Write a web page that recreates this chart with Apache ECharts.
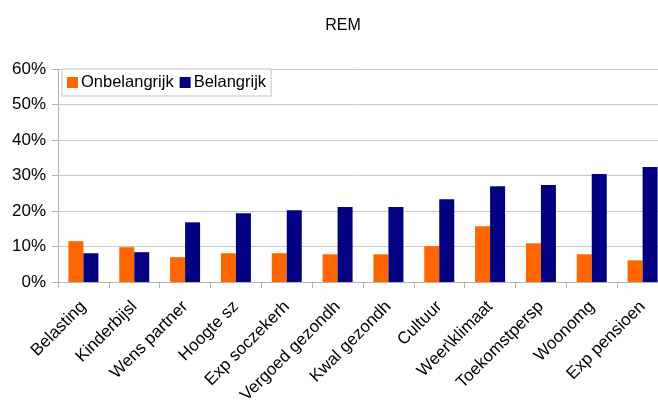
<!DOCTYPE html>
<html>
<head>
<meta charset="utf-8">
<script src="https://cdn.jsdelivr.net/npm/echarts@6/dist/echarts.min.js"></script>
<style>html,body{margin:0;padding:0;background:#fff}#c{width:658px;height:403px}</style>
</head>
<body>
<div id="c"></div>
<script>
const categories = ['Belasting','Kinderbijsl','Wens partner','Hoogte sz','Exp soczekerh','Vergoed gezondh','Kwal gezondh','Cultuur','Weer\\klimaat','Toekomstpersp','Woonomg','Exp pensioen'];
const onbelangrijk = [11.5, 9.8, 7.0, 8.1, 8.1, 7.8, 7.8, 10.1, 15.7, 10.9, 7.8, 6.1];
const belangrijk = [8.1, 8.4, 16.8, 19.4, 20.2, 21.1, 21.1, 23.3, 27.0, 27.3, 30.4, 32.4];
const yTicks = [0, 10, 20, 30, 40, 50, 60];

const font = 'Liberation Sans, Arial, Helvetica, sans-serif';
const chart = echarts.init(document.getElementById('c'), null, {renderer: 'canvas'});
chart.setOption({
  animation: false,
  textStyle: {fontFamily: font},
  title: {
    text: 'REM', left: 338, top: 13, textAlign: 'center',
    textStyle: {fontSize: 16, fontWeight: 'normal', color: '#000', fontFamily: font}
  },
  legend: {
    left: 62, top: 69,
    padding: [5, 5, 5, 5],
    itemWidth: 11, itemHeight: 11, itemGap: 6,
    icon: 'rect',
    backgroundColor: '#fff',
    borderColor: '#c0c0c0', borderWidth: 1,
    textStyle: {fontSize: 16.5, color: '#000', fontFamily: font, padding: [0, 0, 0, -2]},
    data: ['Onbelangrijk', 'Belangrijk']
  },
  grid: {left: 58, width: 610, top: 69, height: 213, containLabel: false, outerBoundsMode: 'none'},
  xAxis: {
    type: 'category', data: categories,
    axisLine: {lineStyle: {color: '#b3b3b3', width: 1}},
    axisTick: {show: true, length: 6, lineStyle: {color: '#b3b3b3'}},
    axisLabel: {rotate: 45, fontSize: 17, color: '#000', margin: 22, interval: 0, fontFamily: font, hideOverlap: false},
    splitLine: {show: false}
  },
  yAxis: {
    type: 'value', min: yTicks[0], max: yTicks[yTicks.length - 1], interval: 10,
    axisLine: {show: true, lineStyle: {color: '#b3b3b3'}},
    axisTick: {show: true, length: 6, lineStyle: {color: '#b3b3b3'}},
    axisLabel: {formatter: '{value}%', fontSize: 17, color: '#000', margin: 12, fontFamily: font},
    splitLine: {lineStyle: {color: '#c8c8c8', width: 1}}
  },
  series: [
    {name: 'Onbelangrijk', type: 'bar', data: onbelangrijk, barWidth: 15, barGap: '0%', itemStyle: {color: '#ff6600'}},
    {name: 'Belangrijk', type: 'bar', data: belangrijk, barWidth: 15, itemStyle: {color: '#000080'}}
  ]
});
</script>
</body>
</html>
